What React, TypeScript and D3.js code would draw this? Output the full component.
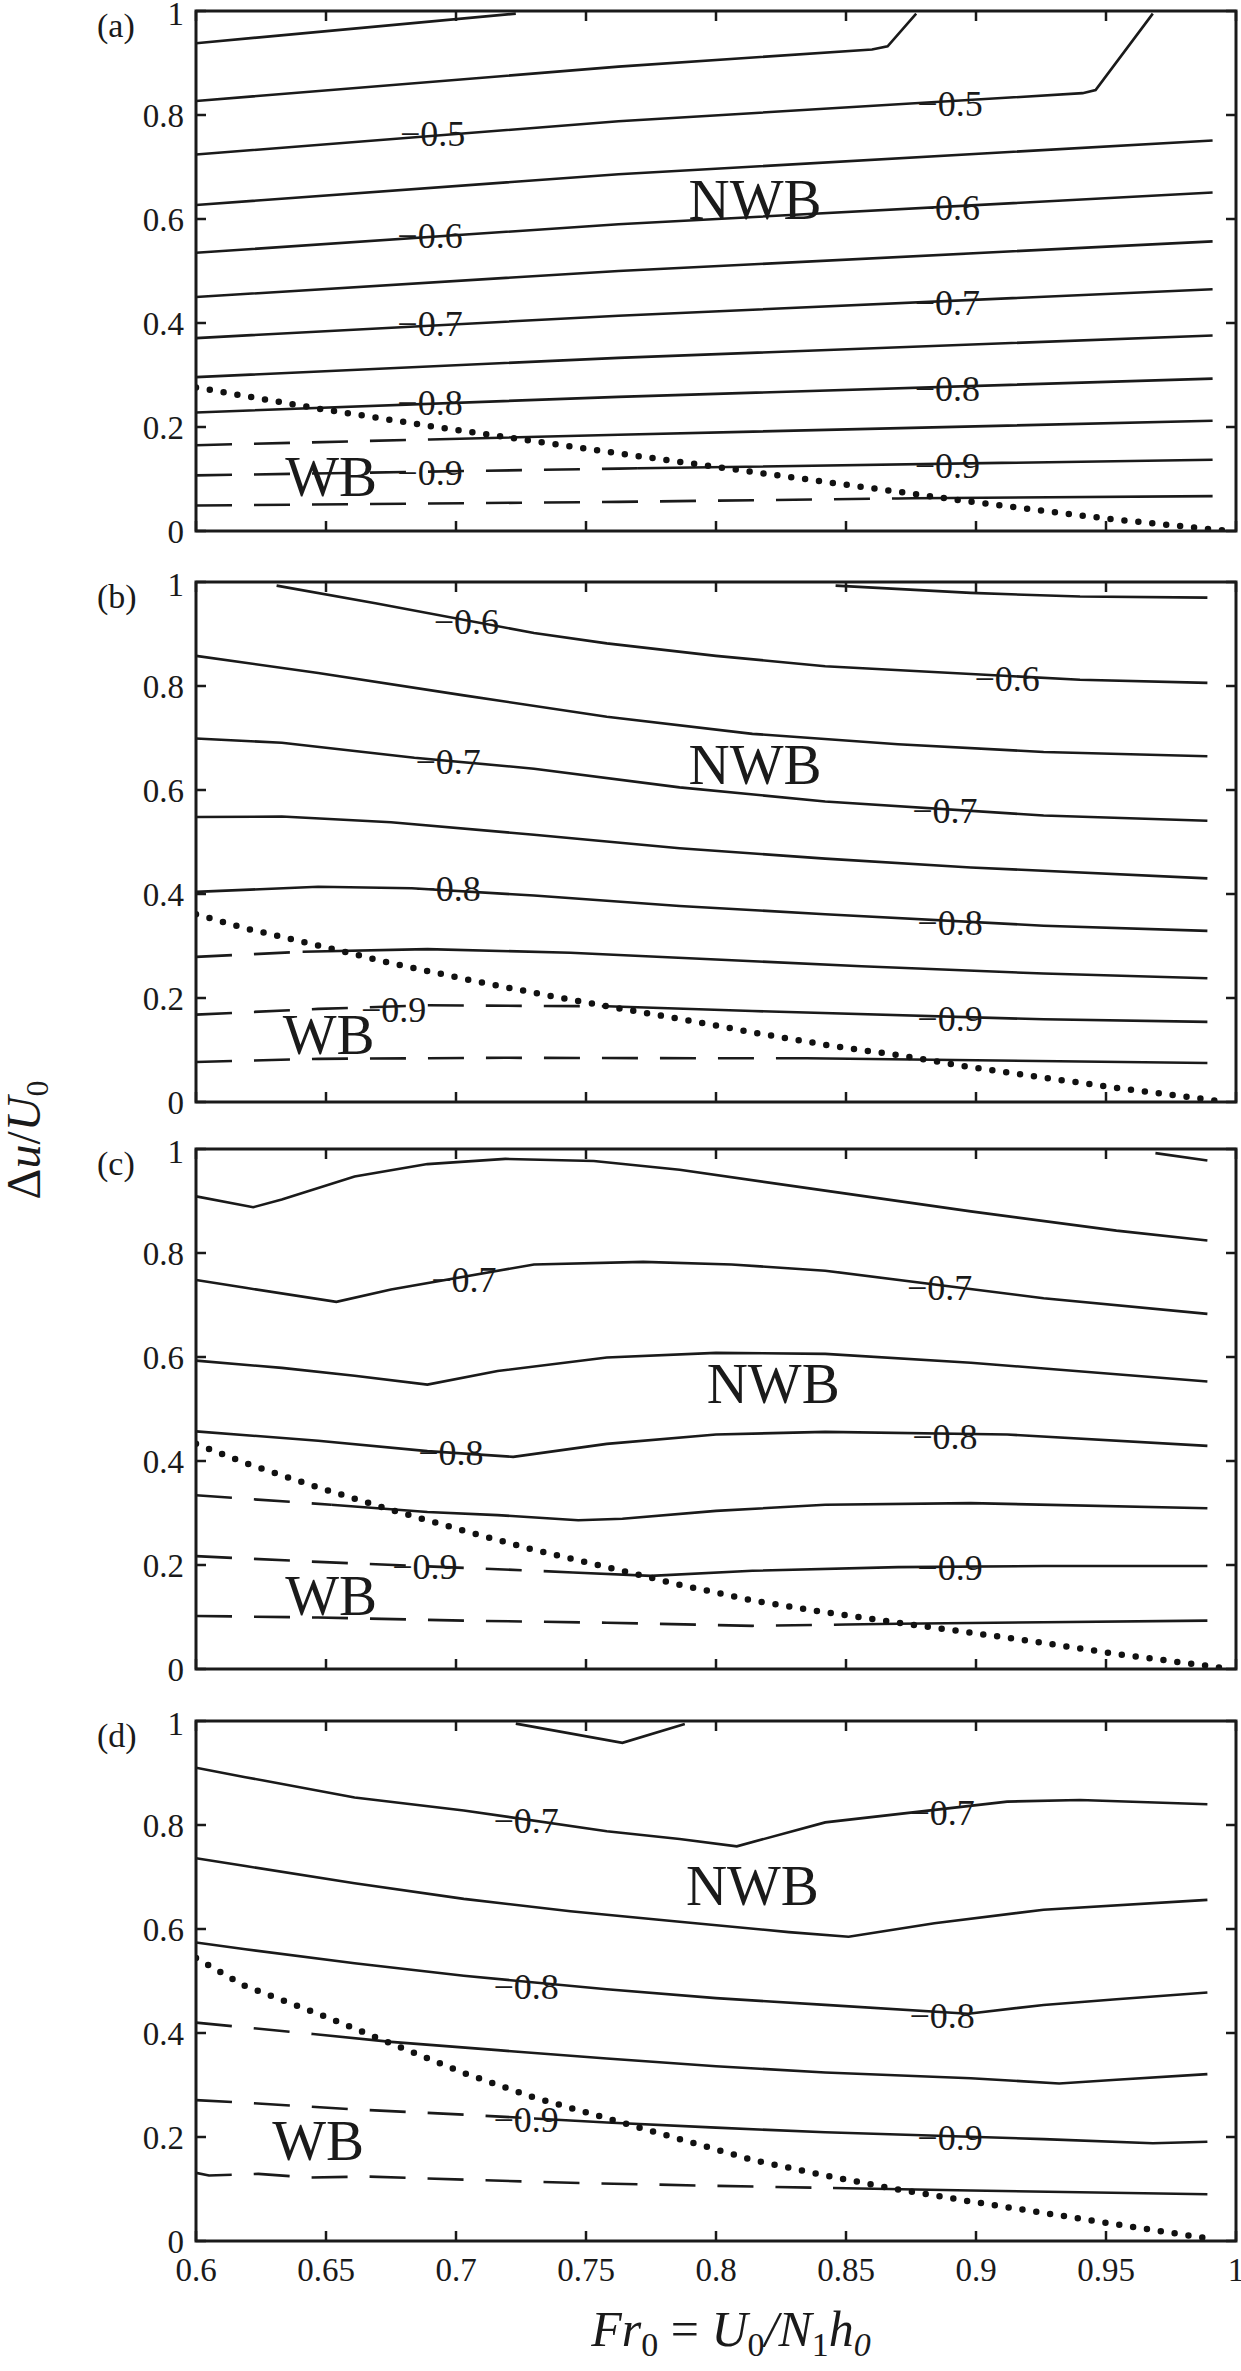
import { useEffect } from 'react'
import * as d3 from 'd3'

type Pt = [number, number]
interface Contour { pts: Pt[]; dashTo?: number }
interface Label { text: string; at: Pt }

const X_TICKS = [0.6, 0.65, 0.7, 0.75, 0.8, 0.85, 0.9, 0.95, 1]
const X_TICK_LABELS = ['0.6', '0.65', '0.7', '0.75', '0.8', '0.85', '0.9', '0.95', '1']
const Y_TICKS = [0, 0.2, 0.4, 0.6, 0.8, 1]
const Y_TICK_LABELS = ['0', '0.2', '0.4', '0.6', '0.8', '1']
const PANEL_NAMES = ['(a)', '(b)', '(c)', '(d)']

// panel (a)
const contoursA: Contour[] = [
  { pts: [[0.6, 0.938], [0.723, 0.995]] },
  { pts: [[0.6, 0.827], [0.7625, 0.893], [0.86, 0.926], [0.866, 0.932], [0.877, 0.995]] },
  { pts: [[0.6, 0.724], [0.7625, 0.788], [0.941, 0.842], [0.946, 0.848], [0.968, 0.995]] },
  { pts: [[0.6, 0.627], [0.7625, 0.686], [0.991, 0.751]] },
  { pts: [[0.6, 0.535], [0.7625, 0.59], [0.991, 0.651]] },
  { pts: [[0.6, 0.45], [0.7625, 0.5], [0.991, 0.557]] },
  { pts: [[0.6, 0.371], [0.7625, 0.414], [0.991, 0.465]] },
  { pts: [[0.6, 0.296], [0.7625, 0.333], [0.991, 0.376]] },
  { pts: [[0.6, 0.228], [0.7625, 0.258], [0.991, 0.293]] },
  { pts: [[0.6, 0.165], [0.7625, 0.185], [0.991, 0.212]], dashTo: 0.69 },
  { pts: [[0.6, 0.107], [0.7625, 0.12], [0.991, 0.137]], dashTo: 0.77 },
  { pts: [[0.6, 0.049], [0.7625, 0.056], [0.876, 0.063], [0.991, 0.067]], dashTo: 0.87 },
]
const boundaryA: Pt[] = [
  [0.6, 0.276], [0.645, 0.237], [0.695, 0.198], [0.76, 0.151], [0.799, 0.124],
  [0.85, 0.089], [0.9, 0.055], [0.95, 0.024], [0.995, 0.001],
]
const labelsA: Label[] = [
  { text: '−0.5', at: [0.691, 0.765] }, { text: '−0.5', at: [0.89, 0.823] },
  { text: '−0.6', at: [0.69, 0.568] }, { text: '−0.6', at: [0.889, 0.623] },
  { text: '−0.7', at: [0.69, 0.399] }, { text: '−0.7', at: [0.889, 0.44] },
  { text: '−0.8', at: [0.69, 0.247] }, { text: '−0.8', at: [0.889, 0.275] },
  { text: '−0.9', at: [0.69, 0.113] }, { text: '−0.9', at: [0.889, 0.127] },
]

// panel (b)
const contoursB: Contour[] = [
  { pts: [[0.846, 0.993], [0.898, 0.979], [0.94, 0.972], [0.989, 0.97]] },
  { pts: [[0.631, 0.993], [0.669, 0.959], [0.73, 0.902], [0.758, 0.882], [0.8, 0.858], [0.842, 0.838], [0.94, 0.812], [0.989, 0.806]] },
  { pts: [[0.6, 0.858], [0.647, 0.825], [0.703, 0.782], [0.758, 0.741], [0.814, 0.708], [0.87, 0.688], [0.926, 0.673], [0.989, 0.665]] },
  { pts: [[0.6, 0.699], [0.633, 0.691], [0.684, 0.662], [0.73, 0.641], [0.786, 0.605], [0.842, 0.578], [0.926, 0.551], [0.989, 0.541]] },
  { pts: [[0.6, 0.548], [0.633, 0.549], [0.675, 0.538], [0.73, 0.514], [0.786, 0.488], [0.842, 0.468], [0.898, 0.451], [0.989, 0.43]] },
  { pts: [[0.6, 0.404], [0.647, 0.414], [0.683, 0.411], [0.73, 0.397], [0.786, 0.377], [0.842, 0.361], [0.926, 0.339], [0.989, 0.329]] },
  { pts: [[0.6, 0.279], [0.641, 0.289], [0.689, 0.294], [0.744, 0.287], [0.8, 0.274], [0.856, 0.261], [0.926, 0.247], [0.989, 0.238]], dashTo: 0.641 },
  { pts: [[0.6, 0.168], [0.647, 0.179], [0.689, 0.186], [0.758, 0.184], [0.814, 0.175], [0.926, 0.159], [0.989, 0.154]], dashTo: 0.758 },
  { pts: [[0.6, 0.077], [0.647, 0.083], [0.719, 0.085], [0.814, 0.084], [0.835, 0.084], [0.989, 0.075]], dashTo: 0.835 },
]
const boundaryB: Pt[] = [
  [0.6, 0.361], [0.619, 0.334], [0.647, 0.301], [0.675, 0.267], [0.703, 0.237],
  [0.73, 0.21], [0.758, 0.184], [0.786, 0.16], [0.814, 0.134], [0.842, 0.11],
  [0.87, 0.09], [0.898, 0.067], [0.926, 0.047], [0.954, 0.027], [0.995, 0.001],
]
const labelsB: Label[] = [
  { text: '−0.6', at: [0.704, 0.925] }, { text: '−0.6', at: [0.912, 0.815] },
  { text: '−0.7', at: [0.697, 0.655] }, { text: '−0.7', at: [0.888, 0.561] },
  { text: '−0.8', at: [0.697, 0.411] }, { text: '−0.8', at: [0.89, 0.346] },
  { text: '−0.9', at: [0.676, 0.179] }, { text: '−0.9', at: [0.89, 0.16] },
]

// panel (c)
const contoursC: Contour[] = [
  { pts: [[0.969, 0.992], [0.989, 0.978]] },
  { pts: [[0.6, 0.909], [0.622, 0.888], [0.633, 0.903], [0.661, 0.947], [0.689, 0.971], [0.719, 0.981], [0.753, 0.977], [0.786, 0.96], [0.842, 0.92], [0.898, 0.88], [0.954, 0.843], [0.989, 0.824]] },
  { pts: [[0.6, 0.748], [0.619, 0.733], [0.654, 0.706], [0.675, 0.73], [0.73, 0.778], [0.772, 0.783], [0.806, 0.778], [0.842, 0.766], [0.926, 0.713], [0.989, 0.683]] },
  { pts: [[0.6, 0.593], [0.633, 0.579], [0.661, 0.564], [0.689, 0.547], [0.716, 0.573], [0.758, 0.599], [0.8, 0.608], [0.842, 0.606], [0.898, 0.589], [0.989, 0.553]] },
  { pts: [[0.6, 0.457], [0.647, 0.439], [0.689, 0.419], [0.722, 0.408], [0.758, 0.433], [0.8, 0.451], [0.842, 0.456], [0.912, 0.451], [0.989, 0.429]] },
  { pts: [[0.6, 0.334], [0.652, 0.316], [0.689, 0.302], [0.716, 0.296], [0.747, 0.286], [0.764, 0.289], [0.8, 0.304], [0.842, 0.316], [0.898, 0.319], [0.989, 0.309]], dashTo: 0.652 },
  { pts: [[0.6, 0.217], [0.647, 0.206], [0.73, 0.189], [0.775, 0.179], [0.814, 0.189], [0.87, 0.196], [0.926, 0.198], [0.989, 0.198]], dashTo: 0.745 },
  { pts: [[0.6, 0.102], [0.647, 0.099], [0.703, 0.093], [0.758, 0.089], [0.814, 0.083], [0.87, 0.087], [0.926, 0.09], [0.989, 0.093]], dashTo: 0.85 },
]
const boundaryC: Pt[] = [
  [0.6, 0.433], [0.619, 0.396], [0.647, 0.349], [0.675, 0.306], [0.703, 0.266],
  [0.73, 0.229], [0.758, 0.196], [0.786, 0.162], [0.814, 0.132], [0.842, 0.109],
  [0.87, 0.089], [0.898, 0.07], [0.926, 0.05], [0.954, 0.029], [0.995, 0.002],
]
const labelsC: Label[] = [
  { text: '−0.7', at: [0.703, 0.75] }, { text: '−0.7', at: [0.886, 0.733] },
  { text: '−0.8', at: [0.698, 0.416] }, { text: '−0.8', at: [0.888, 0.448] },
  { text: '−0.9', at: [0.688, 0.197] }, { text: '−0.9', at: [0.89, 0.195] },
]

// panel (d)
const contoursD: Contour[] = [
  { pts: [[0.723, 0.995], [0.764, 0.958], [0.788, 0.994]] },
  { pts: [[0.6, 0.91], [0.619, 0.892], [0.661, 0.853], [0.703, 0.828], [0.758, 0.788], [0.786, 0.773], [0.808, 0.759], [0.842, 0.805], [0.912, 0.845], [0.94, 0.848], [0.989, 0.84]] },
  { pts: [[0.6, 0.736], [0.619, 0.721], [0.661, 0.688], [0.703, 0.658], [0.744, 0.634], [0.786, 0.614], [0.828, 0.594], [0.851, 0.585], [0.884, 0.611], [0.926, 0.637], [0.989, 0.656]] },
  { pts: [[0.6, 0.574], [0.619, 0.561], [0.661, 0.534], [0.703, 0.51], [0.758, 0.484], [0.8, 0.467], [0.842, 0.454], [0.897, 0.437], [0.926, 0.454], [0.954, 0.465], [0.989, 0.478]] },
  { pts: [[0.6, 0.42], [0.641, 0.4], [0.675, 0.383], [0.716, 0.367], [0.758, 0.351], [0.8, 0.336], [0.842, 0.324], [0.898, 0.313], [0.932, 0.303], [0.954, 0.31], [0.989, 0.321]], dashTo: 0.645 },
  { pts: [[0.6, 0.271], [0.619, 0.266], [0.661, 0.253], [0.703, 0.243], [0.758, 0.228], [0.8, 0.218], [0.842, 0.209], [0.926, 0.196], [0.968, 0.188], [0.989, 0.191]], dashTo: 0.73 },
  { pts: [[0.6, 0.131], [0.605, 0.126], [0.624, 0.129], [0.644, 0.122], [0.666, 0.124], [0.703, 0.118], [0.744, 0.112], [0.8, 0.106], [0.845, 0.102], [0.898, 0.097], [0.989, 0.09]], dashTo: 0.845 },
]
const boundaryD: Pt[] = [
  [0.6, 0.544], [0.619, 0.49], [0.647, 0.437], [0.675, 0.38], [0.703, 0.323],
  [0.73, 0.276], [0.758, 0.236], [0.786, 0.196], [0.814, 0.156], [0.842, 0.126],
  [0.87, 0.099], [0.898, 0.076], [0.926, 0.054], [0.954, 0.032], [0.989, 0.005],
]
const labelsD: Label[] = [
  { text: '−0.7', at: [0.727, 0.808] }, { text: '−0.7', at: [0.887, 0.825] },
  { text: '−0.8', at: [0.727, 0.49] }, { text: '−0.8', at: [0.887, 0.433] },
  { text: '−0.9', at: [0.727, 0.233] }, { text: '−0.9', at: [0.89, 0.199] },
]

// region names, one position per panel
const nwbAt: Pt[] = [[0.815, 0.637], [0.815, 0.648], [0.822, 0.548], [0.814, 0.684]]
const wbAt: Pt[] = [[0.652, 0.105], [0.651, 0.13], [0.652, 0.142], [0.647, 0.193]]

const panels = [
  { contours: contoursA, boundary: boundaryA, labels: labelsA },
  { contours: contoursB, boundary: boundaryB, labels: labelsB },
  { contours: contoursC, boundary: boundaryC, labels: labelsC },
  { contours: contoursD, boundary: boundaryD, labels: labelsD },
]

const W = 1241
const H = 2371
const PANEL_TOPS = [11, 582, 1149, 1721]
const PANEL_H = 520
const FONT = '"Liberation Serif", "Times New Roman", serif'
const TICK = 10

const x = d3.scaleLinear().domain([0.6, 1]).range([196, 1236])

function Panel({ idx }: { idx: number }) {
  const { contours, boundary, labels } = panels[idx]
  const top = PANEL_TOPS[idx]
  const y = d3.scaleLinear().domain([0, 1]).range([top + PANEL_H, top])
  const line = d3.line<Pt>().x(d => x(d[0])).y(d => y(d[1]))
  const [x0, x1] = x.range()
  const id = `p${idx}`
  const last = idx === panels.length - 1

  return (
    <g>
      <defs>
        <clipPath id={`${id}-area`}>
          <rect x={x0} y={top} width={x1 - x0} height={PANEL_H} />
        </clipPath>
        {contours.map((c, i) =>
          c.dashTo === undefined ? null : (
            <g key={i}>
              <clipPath id={`${id}-c${i}-dash`}>
                <rect x={x0} y={top} width={x(c.dashTo) - x0} height={PANEL_H} />
              </clipPath>
              <clipPath id={`${id}-c${i}-solid`}>
                <rect x={x(c.dashTo)} y={top} width={x1 - x(c.dashTo)} height={PANEL_H} />
              </clipPath>
            </g>
          )
        )}
      </defs>

      <g clipPath={`url(#${id}-area)`} fill="none" stroke="#1a1a1a" strokeWidth={2.6}>
        {contours.map((c, i) =>
          c.dashTo === undefined ? (
            <path key={i} d={line(c.pts) ?? ''} />
          ) : (
            <g key={i}>
              <path d={line(c.pts) ?? ''} clipPath={`url(#${id}-c${i}-solid)`} />
              <path d={line(c.pts) ?? ''} clipPath={`url(#${id}-c${i}-dash)`} strokeDasharray="36 22" />
            </g>
          )
        )}
        <path
          d={line(boundary) ?? ''}
          stroke="#111"
          strokeWidth={6.5}
          strokeLinecap="round"
          strokeDasharray="0 14"
        />
      </g>

      <g fontFamily={FONT} fill="#1a1a1a">
        {labels.map((l, i) => (
          <text key={i} x={x(l.at[0])} y={y(l.at[1])} dy="0.35em" textAnchor="middle" fontSize={36}>
            {l.text}
          </text>
        ))}
        <text x={x(nwbAt[idx][0])} y={y(nwbAt[idx][1])} dy="0.34em" textAnchor="middle" fontSize={57}>
          NWB
        </text>
        <text x={x(wbAt[idx][0])} y={y(wbAt[idx][1])} dy="0.34em" textAnchor="middle" fontSize={57}>
          WB
        </text>
      </g>

      {/* frame and inward ticks */}
      <rect x={x0} y={top} width={x1 - x0} height={PANEL_H} fill="none" stroke="#1a1a1a" strokeWidth={3} />
      <g stroke="#1a1a1a" strokeWidth={2.5}>
        {X_TICKS.map(t => (
          <g key={t}>
            <line x1={x(t)} x2={x(t)} y1={y(0)} y2={y(0) - TICK} />
            <line x1={x(t)} x2={x(t)} y1={y(1)} y2={y(1) + TICK} />
          </g>
        ))}
        {Y_TICKS.map(t => (
          <g key={t}>
            <line x1={x0} x2={x0 + TICK} y1={y(t)} y2={y(t)} />
            <line x1={x1} x2={x1 - TICK} y1={y(t)} y2={y(t)} />
          </g>
        ))}
      </g>

      <g fontFamily={FONT} fill="#1a1a1a" fontSize={33}>
        {Y_TICKS.map((t, i) => (
          <text key={t} x={x0 - 12} y={y(t)} dy={t === 1 ? '0.42em' : '0.35em'} textAnchor="end">
            {Y_TICK_LABELS[i]}
          </text>
        ))}
        {last &&
          X_TICKS.map((t, i) => (
            <text key={t} x={x(t)} y={y(0) + 40} textAnchor="middle">
              {X_TICK_LABELS[i]}
            </text>
          ))}
        <text x={97} y={top + 26} fontSize={34}>
          {PANEL_NAMES[idx]}
        </text>
      </g>
    </g>
  )
}

export default function App() {
  useEffect(() => {
    document.body.style.margin = '0'
  }, [])

  return (
    <svg
      width={W}
      height={H}
      viewBox={`0 0 ${W} ${H}`}
      style={{ display: 'block', background: '#fff' }}
    >
      <rect width={W} height={H} fill="#fff" />
      {panels.map((_, i) => (
        <Panel key={i} idx={i} />
      ))}

      {/* y-axis title */}
      <text
        transform="translate(40,1140) rotate(-90)"
        textAnchor="middle"
        fontFamily={FONT}
        fontSize={48}
        fill="#1a1a1a"
      >
        Δ<tspan fontStyle="italic">u</tspan>/<tspan fontStyle="italic">U</tspan>
        <tspan fontSize={32} dy={8}>0</tspan>
      </text>

      {/* x-axis title */}
      <text x={731} y={2346} textAnchor="middle" fontFamily={FONT} fontSize={50} fill="#1a1a1a">
        <tspan fontStyle="italic">Fr</tspan>
        <tspan fontSize={34} dy={10}>0</tspan>
        <tspan dy={-10}> = </tspan>
        <tspan fontStyle="italic">U</tspan>
        <tspan fontSize={34} dy={10}>0</tspan>
        <tspan dy={-10} fontStyle="italic">/N</tspan>
        <tspan fontSize={34} dy={10}>1</tspan>
        <tspan dy={-10} fontStyle="italic">h</tspan>
        <tspan fontSize={34} dy={10} fontStyle="italic">0</tspan>
      </text>
    </svg>
  )
}
